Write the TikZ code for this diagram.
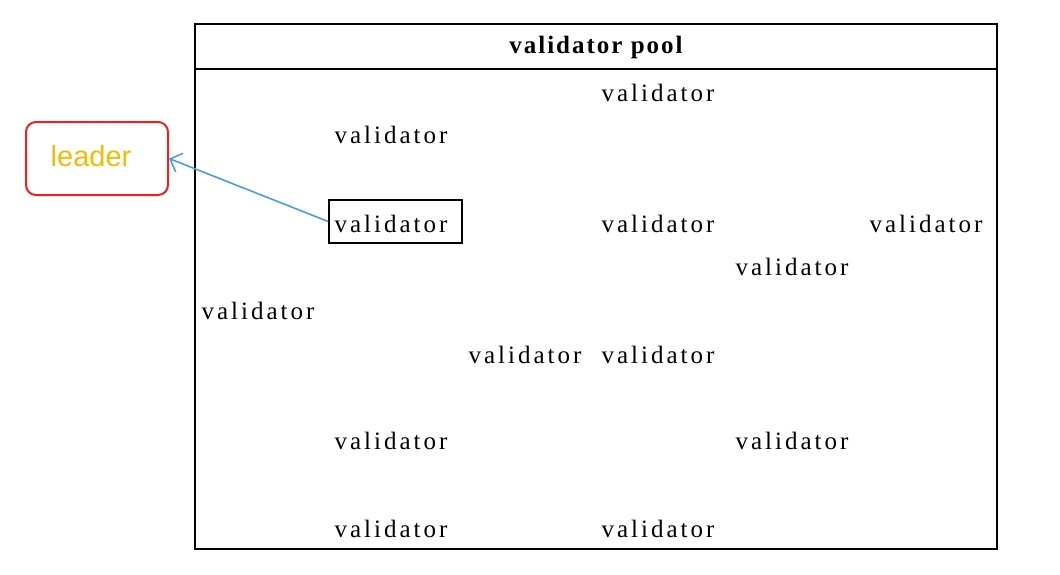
\documentclass[tikz,border=0pt]{standalone}
\usepackage{fontspec}
\setmainfont{Liberation Serif}
\newfontfamily\leaderfont{Liberation Sans}
\usetikzlibrary{arrows.meta}
\definecolor{leaderred}{RGB}{240,30,30}
\definecolor{leaderorange}{RGB}{246,186,0}
\definecolor{arrowblue}{RGB}{72,158,220}
\tikzset{
  val/.style={font=\fontsize{25}{28}\selectfont\addfontfeature{LetterSpace=12}, inner sep=0pt},
  valbox/.style={draw, line width=1.6pt, minimum width=133pt, minimum height=43pt, inner sep=0pt},
  pool/.style={draw, line width=1.8pt},
  leaderbox/.style={draw=leaderred, line width=2pt, rounded corners=10pt, minimum width=142pt, minimum height=73pt},
}
\begin{document}
\begin{tikzpicture}[x=1pt,y=-1pt]
\useasboundingbox (0,0) rectangle (1060,574);
% pool
\draw[pool] (195,24) rectangle (997,549);
\draw[pool] (195,69) -- (997,69);
\node[font=\fontsize{25}{28}\selectfont\bfseries\addfontfeature{LetterSpace=8}] (title) at (596,47) {validator pool};
% leader
\node[leaderbox] (leader) at (97,158.5) {};
\node[font=\leaderfont\fontsize{29}{32}\selectfont, text=leaderorange] (leadertext) at (91,156) {leader};
% validators
\node[val] (v1) at (658,93) {validator};
\node[val] (v2) at (391,135) {validator};
\node[valbox] (v3) at (395.5,221.5) {};
\node[val] (v3t) at (391,224) {validator};
\node[val] (v4) at (658,224) {validator};
\node[val] (v5) at (926,224) {validator};
\node[val] (v6) at (792,267) {validator};
\node[val] (v7) at (258,311) {validator};
\node[val] (v8) at (525,355) {validator};
\node[val] (v9) at (658,355) {validator};
\node[val] (v10) at (391,441) {validator};
\node[val] (v11) at (792,441) {validator};
\node[val] (v12) at (391,529) {validator};
\node[val] (v13) at (658,529) {validator};
% arrow
\draw[arrowblue, line width=1.6pt, -{Straight Barb[length=10pt,width=20pt]}] (v3.west) -- (leader.east);
\end{tikzpicture}
\end{document}
